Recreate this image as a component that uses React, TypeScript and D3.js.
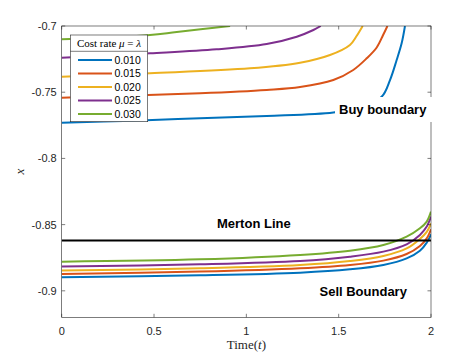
import React from 'react'
import * as d3 from 'd3'

// cost rates and MATLAB default line colours
const rates = ['0.010', '0.015', '0.020', '0.025', '0.030']
const colors = ['#0072BD', '#D95319', '#EDB120', '#7E2F8E', '#77AC30']

// buy boundaries, [t, x]
const buy010 = [[0, -0.773], [0.388, -0.7715], [0.749, -0.7697], [1.11, -0.768], [1.471, -0.7654], [1.616, -0.7614], [1.733, -0.7534], [1.778, -0.7408], [1.814, -0.7257], [1.841, -0.7131], [1.859, -0.7]]
const buy015 = [[0, -0.7541], [0.388, -0.7524], [0.749, -0.7508], [1.11, -0.7483], [1.291, -0.7461], [1.471, -0.7408], [1.579, -0.7332], [1.652, -0.7244], [1.706, -0.7162], [1.74, -0.707], [1.764, -0.7]]
const buy020 = [[0, -0.7383], [0.478, -0.7357], [1.02, -0.732], [1.291, -0.7277], [1.453, -0.7219], [1.561, -0.7143], [1.597, -0.7076], [1.63, -0.7]]
const buy025 = [[0, -0.7239], [0.478, -0.7206], [0.839, -0.7176], [1.11, -0.7136], [1.273, -0.7081], [1.363, -0.703], [1.403, -0.7]]
const buy030 = [[0, -0.7101], [0.478, -0.7068], [0.623, -0.7045], [0.912, -0.7]]

// sell boundaries
const sell010 = [[0, -0.8898], [0.749, -0.8883], [1.291, -0.8863], [1.561, -0.8838], [1.742, -0.8805], [1.868, -0.8755], [1.94, -0.8697], [1.977, -0.8636], [2, -0.8573]]
const sell015 = [[0, -0.8873], [0.749, -0.8855], [1.291, -0.883], [1.561, -0.8805], [1.742, -0.8772], [1.868, -0.8722], [1.94, -0.8661], [1.977, -0.8604], [2, -0.8535]]
const sell020 = [[0, -0.8847], [0.749, -0.883], [1.291, -0.8805], [1.561, -0.8775], [1.742, -0.8737], [1.868, -0.868], [1.94, -0.8608], [1.977, -0.8555], [2, -0.849]]
const sell025 = [[0, -0.8817], [0.749, -0.88], [1.291, -0.8775], [1.561, -0.8742], [1.742, -0.8704], [1.868, -0.8649], [1.94, -0.8578], [1.977, -0.8515], [2, -0.8439]]
const sell030 = [[0, -0.878], [0.749, -0.8762], [1.291, -0.8729], [1.561, -0.8697], [1.742, -0.8654], [1.868, -0.8591], [1.94, -0.8528], [1.977, -0.8477], [2, -0.8402]]

const mertonX = -0.862

const xTicks = [0, 0.5, 1, 1.5, 2]
const xTickLabels = ['0', '0.5', '1', '1.5', '2']
const yTicks = [-0.9, -0.85, -0.8, -0.75, -0.7]
const yTickLabels = ['-0.9', '-0.85', '-0.8', '-0.75', '-0.7']

const buySeries = [buy010, buy015, buy020, buy025, buy030]
const sellSeries = [sell010, sell015, sell020, sell025, sell030]

const W = 476, H = 357
const left = 61.7, right = 431, top = 26, bottom = 317.3

export default function App() {
  const x = d3.scaleLinear().domain([0, 2]).range([left, right])
  const y = d3.scaleLinear().domain([-0.92, -0.7]).range([bottom, top])
  const line = d3.line<number[]>()
    .x(d => x(d[0]))
    .y(d => y(d[1]))
    .curve(d3.curveCatmullRom.alpha(0.5))

  const axisColor = '#262626'
  const tickLen = 3.5
  const sans = 'Liberation Sans, Arial, sans-serif'
  const serif = 'Liberation Serif, Times New Roman, serif'

  return (
    <svg width={W} height={H} style={{ position: 'absolute', left: 0, top: 0, background: '#fff' }}>
      <defs>
        <clipPath id="plotArea">
          <rect x={left} y={top} width={right - left} height={bottom - top} />
        </clipPath>
      </defs>
      <rect x={0} y={0} width={W} height={H} fill="#fff" />

      {/* boundary curves */}
      <g clipPath="url(#plotArea)" fill="none" strokeWidth={2}>
        {buySeries.map((s, i) => (
          <path key={'b' + i} d={line(s) || ''} stroke={colors[i]} />
        ))}
        {sellSeries.map((s, i) => (
          <path key={'s' + i} d={line(s) || ''} stroke={colors[i]} />
        ))}
        <line x1={x(0)} x2={x(2)} y1={y(mertonX)} y2={y(mertonX)} stroke="#000" />
      </g>

      {/* axes box and ticks */}
      <g stroke={axisColor} strokeWidth={0.6} fill="none">
        <rect x={left} y={top} width={right - left} height={bottom - top} />
        {xTicks.map(t => (
          <g key={'xt' + t}>
            <line x1={x(t)} x2={x(t)} y1={bottom} y2={bottom - tickLen} />
            <line x1={x(t)} x2={x(t)} y1={top} y2={top + tickLen} />
          </g>
        ))}
        {yTicks.map(t => (
          <g key={'yt' + t}>
            <line x1={left} x2={left + tickLen} y1={y(t)} y2={y(t)} />
            <line x1={right} x2={right - tickLen} y1={y(t)} y2={y(t)} />
          </g>
        ))}
      </g>
      <g fontFamily={sans} fontSize={11} fill={axisColor}>
        {xTicks.map((t, i) => (
          <text key={'xl' + t} x={x(t)} y={335} textAnchor="middle">{xTickLabels[i]}</text>
        ))}
        {yTicks.map((t, i) => (
          <text key={'yl' + t} x={left - 5} y={y(t) + 4} textAnchor="end">{yTickLabels[i]}</text>
        ))}
      </g>
      <text x={(left + right) / 2} y={349} textAnchor="middle" fontFamily={serif} fontSize={13} fill={axisColor}>
        Time(<tspan fontStyle="italic">t</tspan>)
      </text>
      <text transform={`translate(24,${(top + bottom) / 2}) rotate(-90)`} textAnchor="middle" fontFamily={serif} fontStyle="italic" fontSize={13} fill={axisColor}>x</text>

      {/* annotations */}
      <rect x={335} y={97} width={98} height={25} fill="#fff" />
      <g fontFamily={sans} fontWeight="bold" fontSize={13} fill="#000">
        <text x={339} y={114}>Buy boundary</text>
        <text x={217} y={227.5}>Merton Line</text>
        <text x={319.5} y={295.5}>Sell Boundary</text>
      </g>

      {/* legend */}
      <g>
        <rect x={70.3} y={35} width={77.4} height={86.7} fill="#fff" stroke={axisColor} strokeWidth={0.6} />
        <line x1={70.3} x2={147.7} y1={51.3} y2={51.3} stroke={axisColor} strokeWidth={0.6} />
        <text x={109} y={46.5} textAnchor="middle" fontFamily={serif} fontSize={11} fill="#000">
          Cost rate <tspan fontStyle="italic">μ</tspan> = <tspan fontStyle="italic">λ</tspan>
        </text>
        {rates.map((r, i) => {
          const ry = 60 + i * 13.5
          return (
            <g key={r}>
              <line x1={78} x2={112} y1={ry} y2={ry} stroke={colors[i]} strokeWidth={2} />
              <text x={114.5} y={ry + 3.8} fontFamily={sans} fontSize={10.5} fill="#000">{r}</text>
            </g>
          )
        })}
      </g>
    </svg>
  )
}
